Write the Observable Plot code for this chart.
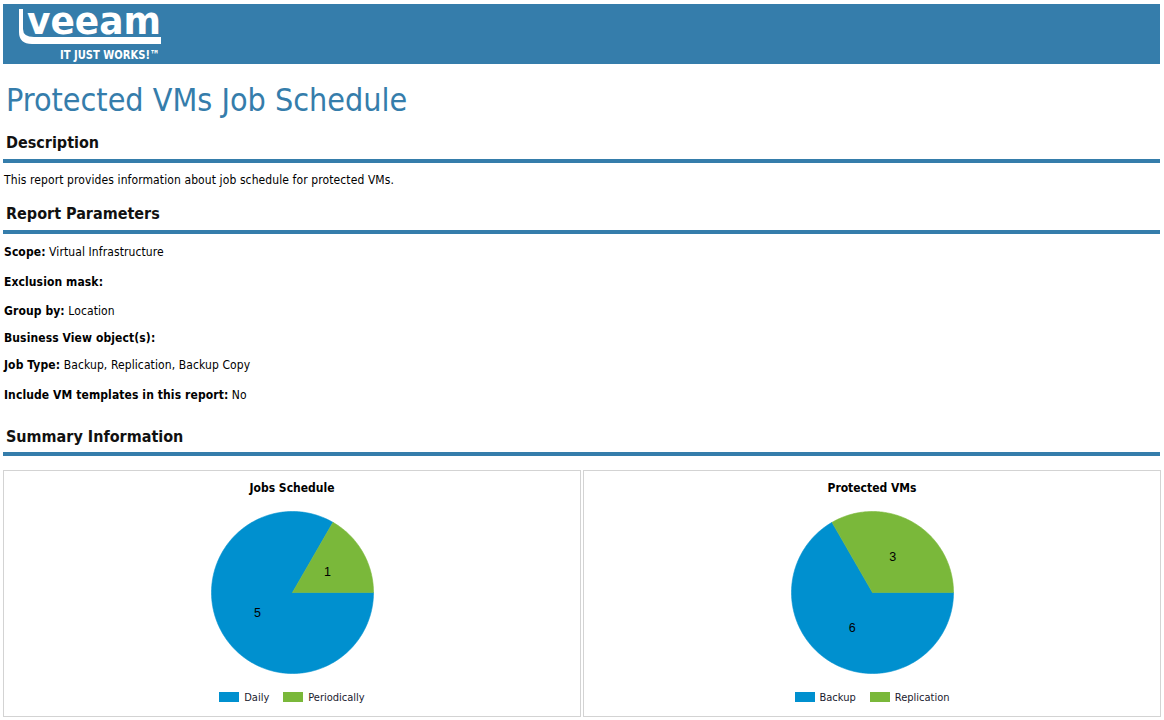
<!DOCTYPE html>
<html>
<head>
<meta charset="utf-8">
<script src="https://cdn.jsdelivr.net/npm/d3@7"></script>
<script src="https://cdn.jsdelivr.net/npm/@observablehq/plot@0.6"></script>
<style>
  html, body { margin: 0; padding: 0; background: #fff; }
  body { position: relative; width: 1164px; height: 720px; overflow: hidden;
         font-family: "DejaVu Sans Condensed", "DejaVu Sans", sans-serif; color: #000; }
  .abs { position: absolute; white-space: nowrap; }
  #banner { left: 3px; top: 4px; width: 1157px; height: 60px; background: #357dab; }
  .title { left: 6px; font-size: 32px; line-height: 32px; color: #357dab; }
  .h { left: 6px; font-size: 16px; line-height: 16px; font-weight: bold; color: #111; }
  .rule { left: 3px; width: 1157px; height: 4px; background: #357dab; }
  .p { left: 4px; font-size: 12px; line-height: 12px; color: #000; letter-spacing: 0.1px; }
  .p b { font-weight: bold; }
  .panel { top: 470px; width: 578px; height: 247px; box-sizing: border-box;
           border: 1px solid #d3d3d3; background: #fff; }
  .ctitle { left: 0; right: 0; top: 11px; text-align: center; font-size: 12px; line-height: 12px;
            font-weight: bold; color: #000; }
  .pie { left: 0; right: 0; top: 38px; display: flex; justify-content: center; }
  .legend { left: 0; right: 0; top: 219px; height: 14px; display: flex; justify-content: center; align-items: center; }
  .legend .plot-swatches, .legend > div { font-family: "DejaVu Sans Condensed", "DejaVu Sans", sans-serif; font-size: 11px;
                           margin: 0; color: #1a1a2e; min-height: 0; }
  .legend span:last-child { margin-right: 0 !important; }
  .legend span { margin-right: 14px !important; }
  .legend span > svg { margin-right: 5px !important; }
</style>
</head>
<body>
<svg width="1164" height="64" style="position:absolute;left:0;top:0">
  <rect x="3" y="4" width="1157" height="60" fill="#357dab"/>
  <path d="M19,9 L23,9 L23,29 Q23,37 34,37 L161,37 L161,44 L32,44 Q19,44 19,32 Z" fill="#fff"/>
  <text x="27" y="34" font-family="DejaVu Sans" font-weight="bold" font-size="36.5" fill="#fff"
        textLength="134" lengthAdjust="spacingAndGlyphs">veeam</text>
  <text x="60" y="59" font-family="DejaVu Sans Condensed, DejaVu Sans" font-weight="bold" font-size="12" fill="#fff"
        textLength="100" lengthAdjust="spacingAndGlyphs">IT JUST WORKS!™</text>
</svg>

<div class="abs title" style="top:84px">Protected VMs Job Schedule</div>

<div class="abs h" style="top:135px">Description</div>
<div class="abs rule" style="top:159px"></div>
<div class="abs p" style="top:174px">This report provides information about job schedule for protected VMs.</div>

<div class="abs h" style="top:206px">Report Parameters</div>
<div class="abs rule" style="top:230px"></div>
<div class="abs p" style="top:246px"><b>Scope:</b> Virtual Infrastructure</div>
<div class="abs p" style="top:276px"><b>Exclusion mask:</b></div>
<div class="abs p" style="top:305px"><b>Group by:</b> Location</div>
<div class="abs p" style="top:332px"><b>Business View object(s):</b></div>
<div class="abs p" style="top:359px"><b>Job Type:</b> Backup, Replication, Backup Copy</div>
<div class="abs p" style="top:389px"><b>Include VM templates in this report:</b> No</div>

<div class="abs h" style="top:429px">Summary Information</div>
<div class="abs rule" style="top:452px"></div>

<div id="panel1" class="abs panel" style="left:3px"></div>
<div id="panel2" class="abs panel" style="left:583px"></div>

<script>
// ---- data ----
const jobsTitle = "Jobs Schedule";
const jobCategories = ["Daily", "Periodically"];
const jobValues = [5, 1];

const vmsTitle = "Protected VMs";
const vmCategories = ["Backup", "Replication"];
const vmValues = [6, 3];

const sliceColors = ["#0090cf", "#7ab83a"];

function pieChart(panel, title, categories, values) {
  const data = categories.map((category, i) => ({category, value: values[i]}));
  // slices start at 3 o'clock and run clockwise
  const arcs = d3.pie().value(d => d.value).sort(null)
    .startAngle(Math.PI / 2).endAngle(Math.PI / 2 + 2 * Math.PI)(data);

  const outline = [];
  for (const a of arcs) {
    const c = a.data.category;
    outline.push({category: c, x: 0, y: 0});
    const n = Math.max(2, Math.ceil((a.endAngle - a.startAngle) / (Math.PI / 180)));
    for (let k = 0; k <= n; ++k) {
      const t = a.startAngle + (a.endAngle - a.startAngle) * k / n;
      outline.push({category: c, x: Math.sin(t), y: Math.cos(t)});
    }
    outline.push({category: c, x: 0, y: 0});
  }
  const labels = arcs.map(a => {
    const m = (a.startAngle + a.endAngle) / 2;
    return {x: 0.5 * Math.sin(m), y: 0.5 * Math.cos(m), text: String(a.data.value)};
  });

  const color = {type: "categorical", domain: categories, range: sliceColors};

  const plot = Plot.plot({
    width: 166,
    height: 166,
    margin: 2,
    x: {domain: [-1, 1], axis: null},
    y: {domain: [-1, 1], axis: null},
    color,
    style: {background: "transparent", overflow: "visible"},
    marks: [
      Plot.line(outline, {x: "x", y: "y", z: "category", fill: "category", stroke: "category",
                          strokeWidth: 0.6, curve: "linear"}),
      Plot.text(labels, {x: "x", y: "y", text: "text", fontSize: 12.5, fill: "#000",
                         fontFamily: "Liberation Sans, Arial, sans-serif"})
    ]
  });

  const t = document.createElement("div");
  t.className = "abs ctitle";
  t.textContent = title;
  panel.appendChild(t);

  const p = document.createElement("div");
  p.className = "abs pie";
  p.appendChild(plot);
  panel.appendChild(p);

  const l = document.createElement("div");
  l.className = "abs legend";
  l.appendChild(Plot.legend({color, legend: "swatches", swatchWidth: 20, swatchHeight: 10}));
  panel.appendChild(l);
}

pieChart(document.getElementById("panel1"), jobsTitle, jobCategories, jobValues);
pieChart(document.getElementById("panel2"), vmsTitle, vmCategories, vmValues);
</script>
</body>
</html>
